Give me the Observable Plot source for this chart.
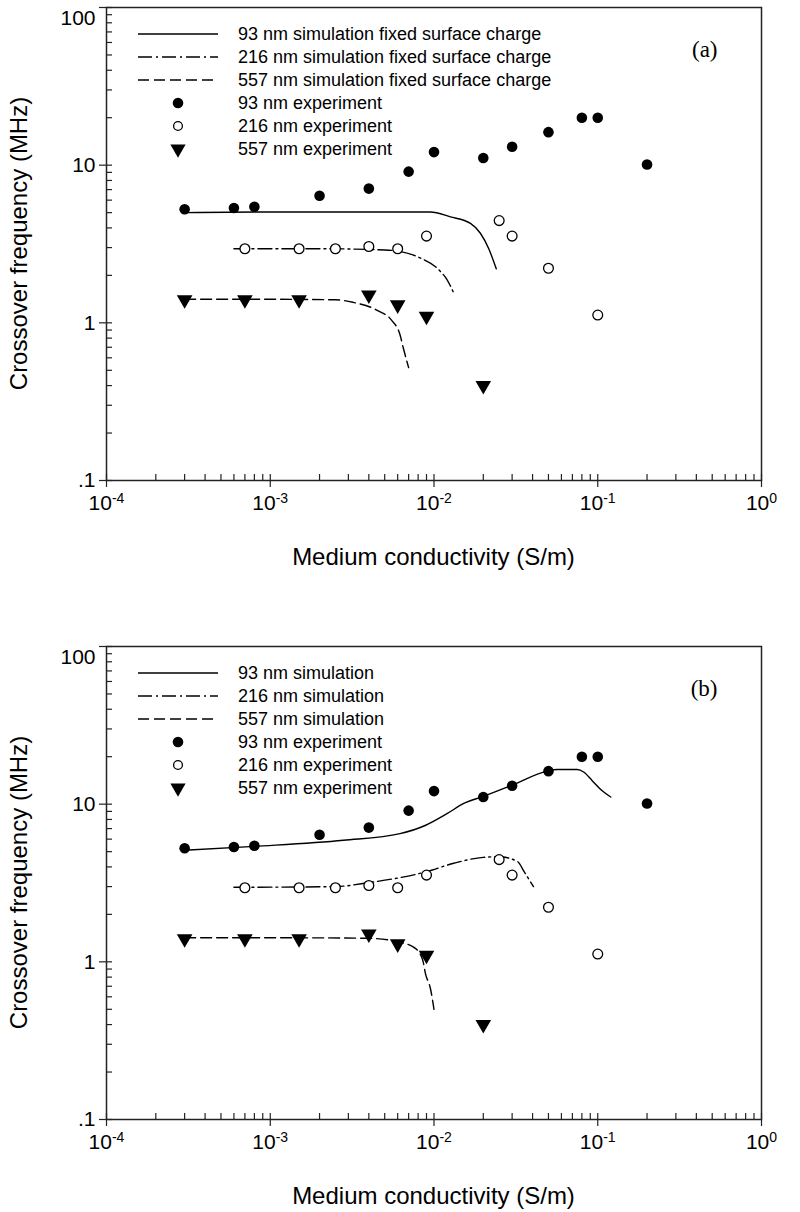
<!DOCTYPE html>
<html><head><meta charset="utf-8">
<script src="https://cdn.jsdelivr.net/npm/d3@7"></script>
<script src="https://cdn.jsdelivr.net/npm/@observablehq/plot@0.6"></script>
<style>
body{margin:0;background:#fff;}
#wrap{position:relative;width:800px;height:1212px;background:#fff;}
.panel{position:absolute;left:0;}
</style></head><body><div id="wrap"></div>
<script>
// ---------- experimental data (shared by both panels) ----------
const exp93X  = [0.0003,0.0006,0.0008,0.002,0.004,0.007,0.01,0.02,0.03,0.05,0.08,0.1,0.2];
const exp93Y  = [5.25,5.35,5.45,6.4,7.1,9.1,12.1,11.1,13.1,16.2,20,20,10.1];
const exp216X = [0.0007,0.0015,0.0025,0.004,0.006,0.009,0.025,0.03,0.05,0.1];
const exp216Y = [2.95,2.95,2.95,3.05,2.95,3.55,4.45,3.55,2.22,1.12];
const exp557X = [0.0003,0.0007,0.0015,0.004,0.006,0.009,0.02];
const exp557Y = [1.4,1.4,1.4,1.5,1.3,1.1,0.4];

// ---------- simulation (a): fixed surface charge ----------
const simA93X  = [0.0003,0.001,0.003,0.0095,0.0126,0.0167,0.0192,0.0216,0.024];
const simA93Y  = [5.0,5.05,5.05,5.05,4.7,4.27,3.7,2.95,2.2];
const simA216X = [0.0006,0.002,0.005,0.006,0.0083,0.0107,0.012,0.0133];
const simA216Y = [2.95,2.95,2.9,2.85,2.57,2.17,1.88,1.52];
const simA557X = [0.0003,0.001,0.0025,0.0032,0.0045,0.0055,0.0062,0.0065,0.007];
const simA557Y = [1.41,1.41,1.40,1.35,1.2,1.04,0.84,0.69,0.52];

// ---------- simulation (b) ----------
const simB93X  = [0.0003,0.0008,0.0028,0.0062,0.0089,0.012,0.0152,0.02,0.03,0.049,0.0565,0.075,0.082,0.0925,0.106,0.12];
const simB93Y  = [5.1,5.4,5.9,6.5,7.35,8.7,10.1,11.2,13.2,16.2,16.6,16.6,16.0,14.1,12.2,11.1];
const simB216X = [0.0006,0.0025,0.004,0.009,0.0132,0.02,0.025,0.0324,0.0355,0.0405];
const simB216Y = [2.97,3.0,3.18,3.73,4.22,4.6,4.64,4.32,3.73,3.0];
const simB557X = [0.0003,0.0015,0.004,0.006,0.0075,0.0085,0.0089,0.0095,0.01];
const simB557Y = [1.42,1.42,1.41,1.34,1.24,1.04,0.83,0.68,0.5];

// ---------- ticks ----------
const xMajor = [1e-4,1e-3,1e-2,1e-1,1];
const xMajorLabels = ["-4","-3","-2","-1","0"];
const yMajor = [0.1,1,10,100];
const yMajorLabels = [".1","1","10","100"];
const mult = [1,2,3,4,5,6,7,8,9];
const xMinor = [-4,-3,-2,-1].flatMap(e => mult.map(m => m*Math.pow(10,e))).concat([1]);
const yMinor = [-1,0,1].flatMap(e => mult.map(m => m*Math.pow(10,e))).concat([100]);

const legendA = ["93 nm simulation fixed surface charge","216 nm simulation fixed surface charge","557 nm simulation fixed surface charge","93 nm experiment","216 nm experiment","557 nm experiment"];
const legendB = ["93 nm simulation","216 nm simulation","557 nm simulation","93 nm experiment","216 nm experiment","557 nm experiment"];

const xTitle = "Medium conductivity (S/m)";
const yTitle = "Crossover frequency (MHz)";

const zip = (xs, ys) => xs.map((x,i) => ({x, y: ys[i]}));
const DASHDOT = "14,4,2,4";
const DASHED = "11,5";
const CURVE = "monotone-x";

function panel({top, svgH, marginTop, marginBottom, sim93, sim216, sim557, tag, legend}) {
  const plot = Plot.plot({
    width: 800, height: svgH,
    marginLeft: 106, marginRight: 39, marginTop, marginBottom,
    x: {type: "log", domain: [1e-4, 1]},
    y: {type: "log", domain: [0.1, 100]},
    style: {fontFamily: "Liberation Sans, Arial, sans-serif", fontSize: "20px", color: "#000", background: "#fff", overflow: "visible"},
    marks: [
      Plot.axisX(xMinor, {tickSize: -6, tickFormat: () => "", label: null, stroke: "#222", strokeWidth: 1.2}),
      Plot.axisX(xMajor, {tickSize: 7, tickPadding: 8, tickFormat: d => "10^" + xMajorLabels[xMajor.indexOf(d)], label: null, fontSize: 21, stroke: "#222", strokeWidth: 1.2}),
      Plot.axisY(yMinor, {tickSize: -6, tickFormat: () => "", label: null, stroke: "#222", strokeWidth: 1.2}),
      Plot.axisY(yMajor, {tickSize: 7, tickPadding: 4, tickFormat: d => yMajorLabels[yMajor.indexOf(d)], label: null, fontSize: 21, stroke: "#222", strokeWidth: 1.2}),
      Plot.frame({stroke: "#222", strokeWidth: 1.5}),
      Plot.line(zip(sim93[0], sim93[1]), {x: "x", y: "y", stroke: "#000", strokeWidth: 1.4, curve: CURVE}),
      Plot.line(zip(sim216[0], sim216[1]), {x: "x", y: "y", stroke: "#000", strokeWidth: 1.4, strokeDasharray: DASHDOT, curve: CURVE}),
      Plot.line(zip(sim557[0], sim557[1]), {x: "x", y: "y", stroke: "#000", strokeWidth: 1.4, strokeDasharray: DASHED, curve: CURVE}),
      Plot.dot(zip(exp93X, exp93Y), {x: "x", y: "y", r: 5.3, fill: "#000", stroke: "none"}),
      Plot.dot(zip(exp216X, exp216Y), {x: "x", y: "y", r: 4.9, fill: "#fff", stroke: "#000", strokeWidth: 1.3}),
      Plot.dot(zip(exp557X, exp557Y), {x: "x", y: "y", r: 5.8, symbol: "triangle", rotate: 180, fill: "#000", stroke: "none"}),
      Plot.text([tag], {frameAnchor: "top-right", dx: -44, dy: 42, text: d => d, textAnchor: "end", lineAnchor: "middle", fontFamily: "Liberation Serif, Times New Roman, serif", fontSize: 23})
    ]
  });
  const svg = d3.select(plot);
  // superscript x tick labels
  svg.selectAll('g[aria-label="x-axis tick label"] text').each(function() {
    const t = d3.select(this); const s = t.text();
    if (s.startsWith("10^")) {
      const e = s.slice(3); t.text("10");
      t.append("tspan").attr("dy", "-0.55em").attr("font-size", "14px").text(e);
    }
  });
  // keep the top "100" label inside the picture
  svg.selectAll('g[aria-label="y-axis tick label"] text').filter(function() { return d3.select(this).text() === "100"; })
    .attr("dy", "0.5em");
  const left = 106, right = 761, bottom = svgH - marginBottom;
  // axis titles
  svg.append("text").attr("x", (left + right) / 2).attr("y", bottom + 85)
    .attr("text-anchor", "middle").attr("font-size", 24).attr("font-family", "Liberation Sans Narrow, Liberation Sans, Arial, sans-serif")
    .text(xTitle);
  svg.append("text").attr("transform", `translate(27,${(marginTop + bottom) / 2}) rotate(-90)`)
    .attr("text-anchor", "middle").attr("font-size", 24).attr("font-family", "Liberation Sans Narrow, Liberation Sans, Arial, sans-serif")
    .text(yTitle);
  // legend
  const lg = svg.append("g").attr("font-size", 18).attr("font-family", "Liberation Sans, Arial, sans-serif").attr("text-anchor", "start");
  const y0 = marginTop + 27, step = 23, x1 = 138, x2 = 218, xm = 178, xt = 238;
  const styles = [null, DASHDOT, DASHED];
  legend.forEach((txt, i) => {
    const y = y0 + i * step;
    if (i < 3) {
      lg.append("line").attr("x1", x1).attr("x2", x2).attr("y1", y).attr("y2", y)
        .attr("stroke", "#000").attr("stroke-width", 1.4).attr("stroke-dasharray", styles[i]);
    } else if (i === 3) {
      lg.append("circle").attr("cx", xm).attr("cy", y).attr("r", 5.3).attr("fill", "#000");
    } else if (i === 4) {
      lg.append("circle").attr("cx", xm).attr("cy", y).attr("r", 4.4).attr("fill", "#fff").attr("stroke", "#000").attr("stroke-width", 1.3);
    } else {
      lg.append("path").attr("d", d3.symbol(d3.symbolTriangle, 100)()).attr("transform", `translate(${xm},${y}) rotate(180)`).attr("fill", "#000");
    }
    lg.append("text").attr("x", xt).attr("y", y).attr("dy", "0.35em").attr("text-anchor", "start").text(txt);
  });
  const div = document.createElement("div");
  div.className = "panel"; div.style.top = top + "px";
  div.appendChild(plot);
  document.getElementById("wrap").appendChild(div);
}

panel({top: 0, svgH: 606, marginTop: 7, marginBottom: 606 - 7 - 473,
  sim93: [simA93X, simA93Y], sim216: [simA216X, simA216Y], sim557: [simA557X, simA557Y],
  tag: "(a)", legend: legendA});
panel({top: 606, svgH: 606, marginTop: 40, marginBottom: 606 - 40 - 473,
  sim93: [simB93X, simB93Y], sim216: [simB216X, simB216Y], sim557: [simB557X, simB557Y],
  tag: "(b)", legend: legendB});
</script></body></html>
